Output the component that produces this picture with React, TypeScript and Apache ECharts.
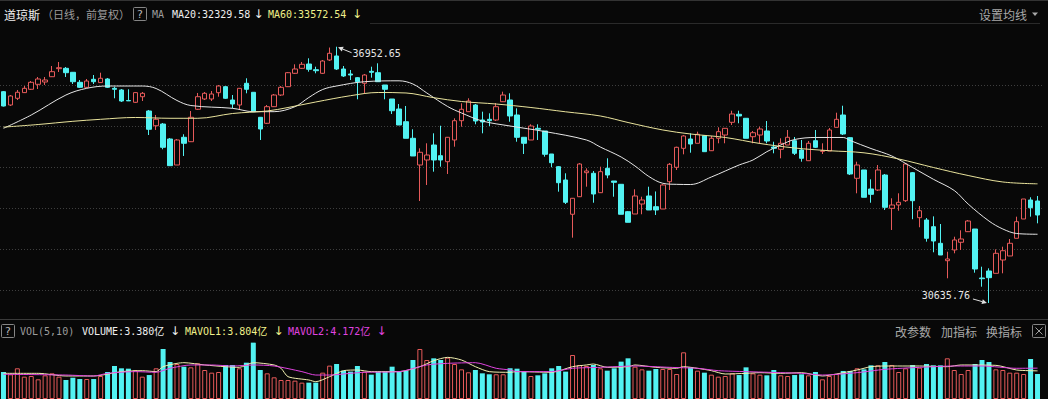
import React, { useEffect, useRef } from "react";
import * as echarts from "echarts";

// ---------- data ----------
const categories: string[] = Array.from({ length: 150 }, (_, i) => `D${i + 1}`);

// [open, close, low, high]
const candles: number[][] = [
  [35844, 35491, 35479, 35861], [35516, 35738, 35491, 35762], [35681, 35829, 35639, 35886], [35821, 35927, 35812, 35984], [35903, 36075, 35886, 36107],
  [36026, 36157, 35910, 36206], [36083, 36132, 36009, 36206], [36213, 36337, 36206, 36477], [36411, 36435, 36329, 36576], [36420, 36312, 36206, 36452],
  [36322, 36090, 36033, 36329], [36075, 35952, 35935, 36132], [35952, 36107, 35935, 36157], [36149, 36090, 36033, 36255], [36068, 36174, 36058, 36312],
  [36157, 35952, 35935, 36181], [35927, 35903, 35681, 35967], [35886, 35614, 35590, 35910], [35627, 35617, 35614, 35903], [35582, 35821, 35565, 35836],
  [35720, 35804, 35614, 35836], [35368, 34917, 34776, 35393], [35005, 35163, 34900, 35269], [35047, 34473, 34424, 35072], [34678, 34020, 34012, 34702],
  [34037, 34653, 34037, 34678], [34720, 34572, 34259, 34794], [34611, 35213, 34604, 35368], [35410, 35720, 35393, 35812], [35664, 35804, 35639, 35836],
  [35664, 35787, 35614, 35861], [35819, 35984, 35720, 36009], [35967, 35681, 35664, 35984], [35639, 35540, 35434, 35762], [35516, 35927, 35393, 35935],
  [36051, 35903, 35804, 36174], [35829, 35351, 35343, 35836], [35213, 34924, 34653, 35220], [35065, 35474, 35047, 35516], [35474, 35762, 35466, 35787],
  [35762, 35952, 35738, 35984], [35967, 36312, 35959, 36329], [36297, 36403, 36280, 36519], [36420, 36519, 36403, 36576], [36526, 36396, 36337, 36667],
  [36386, 36361, 36297, 36460], [36297, 36600, 36280, 36625], [36625, 36790, 36600, 36932], [36724, 36403, 36379, 36952.65], [36403, 36231, 36206, 36477],
  [36280, 36255, 36132, 36379], [36189, 36090, 35656, 36206], [36051, 36255, 35787, 36280], [36346, 36322, 36189, 36460], [36312, 36090, 36083, 36544],
  [36009, 35903, 35656, 36009], [35664, 35375, 35294, 35664], [35417, 35023, 35023, 35540], [35104, 34695, 34695, 35491], [34695, 34259, 34259, 34917],
  [34037, 34350, 33149, 34448], [34160, 34283, 33544, 34572], [34530, 34160, 33872, 34818], [34266, 34160, 33995, 35005], [34118, 34720, 33815, 34727],
  [34653, 35129, 34488, 35188], [35129, 35410, 34981, 35558], [35351, 35614, 35343, 35681], [35516, 35121, 35040, 35540], [35146, 35097, 34818, 35351],
  [35163, 35129, 34998, 35311], [35146, 35474, 35121, 35565], [35597, 35762, 35590, 35844], [35639, 35245, 35104, 35804], [35269, 34720, 34611, 35434],
  [34720, 34572, 34308, 34727], [34653, 34998, 34653, 35040], [34941, 34917, 34653, 35040], [34875, 34301, 34242, 34875], [34308, 34093, 33980, 34308],
  [33995, 33600, 33379, 34012], [33667, 33117, 33075, 33832], [32822, 33216, 32245, 33223], [33255, 34061, 33248, 34086], [33847, 33889, 33502, 33955],
  [33832, 33322, 33107, 33889], [33354, 33872, 33347, 33995], [33955, 33790, 33709, 34202], [33642, 33610, 33255, 33642], [33561, 32822, 32822, 33568],
  [32886, 32624, 32624, 32903], [32829, 33273, 32829, 33438], [33075, 33174, 32822, 33255], [33273, 32928, 32928, 33502], [33009, 32928, 32804, 33385],
  [32952, 33544, 32952, 33568], [33625, 34054, 33420, 34086], [33980, 34473, 33914, 34488], [34448, 34752, 34300, 34776], [34678, 34554, 34340, 34818],
  [34572, 34794, 34572, 34858], [34759, 34365, 34365, 34776], [34389, 34695, 34382, 34752], [34695, 34858, 34572, 34966], [34776, 34941, 34572, 34949],
  [35089, 35294, 35023, 35375], [35287, 35245, 35065, 35375], [35188, 34695, 34695, 35195], [34734, 34833, 34572, 34875], [34776, 34924, 34572, 34981],
  [34875, 34628, 34572, 35121], [34480, 34448, 34325, 34611], [34424, 34572, 34202, 34695], [34530, 34720, 34530, 34900], [34636, 34325, 34283, 34727],
  [34407, 34202, 34118, 34653], [34143, 34572, 34143, 34628], [34636, 34473, 34456, 34900], [34374, 34389, 34308, 34572], [34382, 34900, 34382, 34949],
  [34966, 35163, 34966, 35326], [35269, 34801, 34776, 35498], [34710, 33815, 33790, 34727], [33709, 34037, 33339, 34118], [33914, 33241, 33241, 33914],
  [33445, 33314, 33107, 33684], [33420, 33914, 33396, 34037], [33790, 32994, 32928, 33815], [32969, 33051, 32435, 33216], [33051, 33117, 32910, 33339],
  [33157, 34061, 33125, 34086], [33847, 33157, 32700, 33864], [32738, 32910, 32502, 33026], [32681, 32230, 32147, 32730], [32516, 32163, 31885, 32771],
  [32106, 31818, 31818, 32582], [31678, 31720, 31244, 31899], [31942, 32189, 31860, 32269], [32132, 32213, 31942, 32427], [32393, 32656, 32385, 32681],
  [32459, 31473, 31382, 32459], [31251, 31234, 31037, 31530], [31424, 31259, 30635.76, 31490], [31367, 31860, 31367, 31958], [31695, 31924, 31367, 32023],
  [31794, 32107, 31794, 32213], [32230, 32639, 32230, 32763], [32706, 33199, 32706, 33199], [33174, 32984, 32763, 33241], [33149, 32804, 32599, 33273],
];

// volume, in 亿
const volumes: number[] = [
  3.65, 3.34, 4.15, 3.02, 3.11, 2.66, 3.2, 3.47, 3.02, 2.57,
  2.88, 2.7, 2.7, 2.7, 3.11, 3.65, 4.46, 4.15, 4.1, 3.92,
  3.02, 3.24, 4.15, 6.76, 5.0, 4.73, 4.37, 4.28, 4.82, 3.92,
  3.56, 3.65, 4.6, 4.6, 4.15, 4.91, 7.62, 3.92, 3.47, 2.93,
  2.57, 2.57, 2.48, 2.21, 2.21, 2.21, 3.56, 4.51, 4.73, 3.83,
  3.7, 4.46, 3.7, 3.29, 3.7, 3.7, 4.37, 3.7, 3.83, 5.27,
  6.76, 5.27, 5.5, 5.27, 5.59, 4.73, 4.01, 3.61, 3.92, 3.47,
  3.34, 3.34, 3.34, 4.15, 4.1, 3.7, 3.11, 3.2, 3.47, 4.15,
  4.46, 3.7, 5.95, 4.6, 4.46, 4.6, 4.15, 3.83, 4.15, 5.05,
  5.5, 4.37, 4.01, 3.83, 4.06, 4.06, 4.06, 3.38, 6.31, 4.28,
  3.83, 3.56, 3.29, 3.02, 3.11, 3.47, 3.24, 4.28, 3.47, 3.29,
  3.2, 3.92, 3.2, 3.11, 3.24, 3.34, 3.2, 3.65, 2.66, 3.11,
  3.38, 3.79, 3.79, 4.15, 4.01, 4.55, 4.55, 5.0, 4.6, 3.65,
  4.15, 4.6, 4.24, 4.73, 4.55, 4.55, 5.5, 3.92, 3.38, 3.92,
  4.73, 5.27, 5.0, 4.01, 3.92, 3.56, 3.56, 3.38, 5.41, 3.38,
];

// moving averages: [category index, value]
const ma20Points: number[][] = [
  [0, 34941], [4, 35269], [9, 35762], [12, 35927], [15, 35984], [20, 35984], [22, 35922], [25, 35627], [27, 35503],
  [33, 35434], [36, 35351], [39, 35351], [42, 35474], [44, 35701], [46, 35898], [48, 35984], [52, 36090], [57, 36112],
  [59, 36033], [61, 35812], [64, 35479], [66, 35319], [69, 35121], [73, 34998], [78, 34862], [84, 34653], [86, 34480],
  [89, 34234], [91, 34012], [93, 33753], [95, 33586], [97, 33560], [99, 33556], [102, 33741], [106, 34037], [108, 34160],
  [110, 34365], [112, 34530], [114, 34665], [117, 34715], [121, 34715], [122, 34641], [125, 34443], [128, 34259],
  [131, 33975], [134, 33684], [137, 33408], [139, 33075], [142, 32656], [144, 32459], [146, 32348], [149, 32329.58],
];
const ma60Points: number[][] = [
  [0, 34970], [5, 35035], [10, 35114], [14, 35163], [19, 35208], [24, 35188], [28, 35188], [33, 35306], [38, 35368],
  [41, 35454], [45, 35590], [50, 35745], [54, 35824], [58, 35812], [62, 35696], [66, 35602], [71, 35540], [76, 35454],
  [81, 35348], [86, 35245], [90, 35084], [95, 34900], [99, 34801], [104, 34715], [109, 34567], [114, 34456], [119, 34389],
  [124, 34337], [129, 34185], [134, 33975], [139, 33778], [144, 33618], [149, 33572.54],
];
const mavol1Points: number[][] = [
  [0, 3.47], [5, 3.47], [9, 3.11], [13, 3.11], [17, 3.7], [20, 3.83], [22, 3.7], [23, 4.37], [25, 4.82], [26, 4.91],
  [29, 4.6], [32, 4.37], [34, 4.28], [36, 4.91], [39, 4.6], [40, 4.15], [41, 3.02], [44, 2.57], [45, 2.34], [47, 3.02],
  [49, 3.83], [51, 3.92], [53, 3.7], [57, 3.7], [60, 4.37], [62, 5.18], [64, 5.63], [66, 5.27], [68, 4.37], [70, 3.7],
  [73, 3.61], [74, 3.7], [79, 3.61], [82, 4.37], [84, 4.6], [85, 4.73], [87, 4.28], [90, 4.37], [91, 4.6], [94, 4.28],
  [97, 4.15], [98, 4.37], [100, 4.15], [102, 3.83], [104, 3.38], [107, 3.47], [109, 3.56], [112, 3.47], [115, 3.56],
  [118, 3.11], [120, 3.38], [123, 3.92], [125, 4.37], [127, 4.46], [132, 4.46], [136, 4.37], [138, 4.6], [143, 4.55],
  [146, 3.92], [149, 3.804],
];
const mavol2Points: number[][] = [
  [0, 3.34], [9, 3.24], [13, 3.11], [15, 3.47], [19, 3.7], [22, 3.61], [24, 4.15], [27, 4.6], [30, 4.6], [33, 4.46],
  [36, 4.6], [39, 4.46], [43, 3.7], [45, 3.24], [47, 3.24], [50, 3.47], [52, 3.61], [57, 3.7], [61, 4.6], [64, 4.82],
  [68, 4.91], [71, 4.15], [73, 3.92], [74, 3.7], [79, 3.7], [82, 4.15], [86, 4.28], [91, 4.46], [96, 4.28], [100, 4.15],
  [103, 3.83], [107, 3.7], [112, 3.56], [115, 3.47], [118, 3.24], [123, 3.56], [127, 4.01], [132, 4.28], [137, 4.46],
  [141, 4.46], [146, 4.15], [149, 4.172],
];

const highMark = { index: 48, value: 36952.65 };
const lowMark = { index: 142, value: 30635.76 };

// ---------- style ----------
const BG = "#080808";
const RED = "#e65a5a";
const CYAN = "#52f2f2";
const WHITE = "#efefef";
const GREY = "#9c9c9c";
const YELLOW = "#f0f08a";
const MAGENTA = "#e044e0";
const GRIDC = "#3e3e3e";
const MONO = '10px "DejaVu Sans Mono", "Noto Sans CJK SC", monospace';
const CJK12 = '12px "Noto Sans CJK SC", sans-serif';
const CJK11 = '11px "Noto Sans CJK SC", sans-serif';
const ARROWF = '12px "DejaVu Sans", sans-serif';

function T(text: string, x: number, y: number, fill: string, font: string, align = "left") {
  return {
    type: "text",
    x,
    y,
    silent: true,
    z: 100,
    style: { text, fill, font, textAlign: align, align, textVerticalAlign: "middle", verticalAlign: "middle" },
  };
}
function L(x1: number, y1: number, x2: number, y2: number, stroke: string) {
  return { type: "line", silent: true, z: 100, shape: { x1, y1, x2, y2 }, style: { stroke, lineWidth: 1 } };
}
function R(x: number, y: number, w: number, h: number, stroke: string) {
  return { type: "rect", silent: true, z: 100, shape: { x, y, width: w, height: h, r: 1 }, style: { fill: "none", stroke, lineWidth: 1 } };
}
function arrow(x1: number, y1: number, x2: number, y2: number, color: string) {
  const dx = x2 - x1, dy = y2 - y1;
  const len = Math.hypot(dx, dy);
  const ux = dx / len, uy = dy / len;
  const hl = 5, hw = 2.5;
  const bx = x2 - ux * hl, by = y2 - uy * hl;
  return [
    L(x1, y1, bx, by, color),
    {
      type: "polygon",
      silent: true,
      z: 100,
      shape: { points: [[x2, y2], [bx - uy * hw, by + ux * hw], [bx + uy * hw, by - ux * hw]] },
      style: { fill: color },
    },
  ];
}

export default function App() {
  const ref = useRef<HTMLDivElement>(null);

  useEffect(() => {
    document.body.style.margin = "0";
    document.body.style.background = BG;
    const chart = echarts.init(ref.current!, null, { renderer: "svg" });

    const volData = volumes.map((v, i) => {
      const up = candles[i][1] >= candles[i][0];
      return {
        value: v,
        itemStyle: up
          ? { color: "rgba(0,0,0,0)", borderColor: RED, borderWidth: 1 }
          : { color: CYAN, borderColor: CYAN, borderWidth: 0 },
      };
    });

    const lineS = (data: number[][], color: string, xi: number, yi: number, smooth: number) => ({
      type: "line",
      xAxisIndex: xi,
      yAxisIndex: yi,
      data,
      smooth,
      showSymbol: false,
      symbol: "none",
      silent: true,
      lineStyle: { color, width: 1 },
      z: 5,
    });

    const option: any = {
      animation: false,
      backgroundColor: BG,
      grid: [
        { left: 0, width: 1041, top: 44, height: 287 },
        { left: 0, width: 1041, top: 342, height: 57 },
        { left: 0, width: 1044, top: 85, height: 205 },
      ],
      xAxis: [
        { type: "category", data: categories, gridIndex: 0, boundaryGap: true, show: false },
        {
          type: "category",
          data: categories,
          gridIndex: 1,
          boundaryGap: true,
          position: "top",
          axisLine: { show: true, lineStyle: { color: GRIDC, type: [1, 2] } },
          axisTick: { show: false },
          axisLabel: { show: false },
          splitLine: { show: false },
        },
        { type: "value", gridIndex: 2, min: 0, max: 1, show: false },
      ],
      yAxis: [
        { type: "value", gridIndex: 0, min: 29944.8, max: 37019.4, show: false, splitLine: { show: false } },
        { type: "value", gridIndex: 1, min: 0, max: 7.706, show: false, splitLine: { show: false } },
        {
          type: "value",
          gridIndex: 2,
          min: 0,
          max: 5,
          interval: 1,
          axisLine: { show: false },
          axisTick: { show: false },
          axisLabel: { show: false },
          splitLine: { show: true, lineStyle: { color: GRIDC, type: [1, 2] } },
        },
      ],
      series: [
        {
          type: "candlestick",
          xAxisIndex: 0,
          yAxisIndex: 0,
          data: candles,
          barWidth: 5,
          silent: true,
          itemStyle: { color: BG, color0: CYAN, borderColor: RED, borderColor0: CYAN, borderWidth: 1 },
          z: 3,
        },
        lineS(ma20Points, "#e6e6e6", 0, 0, 0.35),
        lineS(ma60Points, "#e9e39c", 0, 0, 0.35),
        {
          type: "bar",
          xAxisIndex: 1,
          yAxisIndex: 1,
          data: volData,
          barWidth: 5,
          silent: true,
          z: 3,
        },
        lineS(mavol1Points, "#f2f0b0", 1, 1, 0.25),
        lineS(mavol2Points, MAGENTA, 1, 1, 0.25),
        { type: "line", xAxisIndex: 2, yAxisIndex: 2, data: [], silent: true },
      ],
    };

    chart.setOption(option);

    const hp = chart.convertToPixel({ seriesIndex: 0 }, [highMark.index, highMark.value]) as number[];
    const lp = chart.convertToPixel({ seriesIndex: 0 }, [lowMark.index, lowMark.value]) as number[];

    const ma20Last = ma20Points[ma20Points.length - 1][1].toFixed(2);
    const ma60Last = ma60Points[ma60Points.length - 1][1].toFixed(2);
    const volLast = volumes[volumes.length - 1].toFixed(3);
    const mv1Last = mavol1Points[mavol1Points.length - 1][1].toFixed(3);
    const mv2Last = mavol2Points[mavol2Points.length - 1][1].toFixed(3);

    const graphics: any[] = [
      // frame lines
      L(0, 0.5, 1048, 0.5, "#333333"),
      L(370, 23.5, 1040, 23.5, "#2a2a2a"),
      L(0, 319.5, 1048, 319.5, "#3a3a3a"),
      // top header
      T("道琼斯", 4, 14, WHITE, CJK12),
      T("（日线，前复权）", 42, 14, GREY, CJK11),
      R(133.5, 7.5, 13, 13, "#858585"),
      T("?", 140, 14.5, "#b5b5b5", '11px "DejaVu Sans", sans-serif', "center"),
      T("MA", 152, 14, GREY, MONO),
      T(`MA20:${ma20Last}`, 172, 14, WHITE, MONO),
      T("↓", 258.5, 14, WHITE, ARROWF, "center"),
      T(`MA60:${ma60Last}`, 268, 14, YELLOW, MONO),
      T("↓", 357, 14, YELLOW, ARROWF, "center"),
      T("设置均线", 979, 14, "#a8a8a8", CJK12),
      { type: "polygon", silent: true, z: 100, shape: { points: [[1032, 12.5], [1038, 12.5], [1035, 16]] }, style: { fill: "#a8a8a8" } },
      // volume header
      R(1.5, 324.5, 13, 13, "#858585"),
      T("?", 8, 331.5, "#b5b5b5", '11px "DejaVu Sans", sans-serif', "center"),
      T("VOL(5,10)", 20, 331, GREY, MONO),
      T(`VOLUME:${volLast}亿`, 82, 331, WHITE, MONO),
      T("↓", 175, 331, WHITE, ARROWF, "center"),
      T(`MAVOL1:${mv1Last}亿`, 185, 331, YELLOW, MONO),
      T("↓", 278.5, 331, YELLOW, ARROWF, "center"),
      T(`MAVOL2:${mv2Last}亿`, 288, 331, MAGENTA, MONO),
      T("↓", 381.5, 331, MAGENTA, ARROWF, "center"),
      T("改参数", 895, 331, "#a8a8a8", CJK12),
      T("加指标", 941, 331, "#a8a8a8", CJK12),
      T("换指标", 986, 331, "#a8a8a8", CJK12),
      R(1032.5, 324.5, 13, 13, "#858585"),
      L(1035.5, 327.5, 1042.5, 334.5, "#a0a0a0"),
      L(1042.5, 327.5, 1035.5, 334.5, "#a0a0a0"),
      // extreme markers
      ...arrow(hp[0] + 15, hp[1] + 6, hp[0] + 1.5, hp[1] + 0.5, "#e0e0e0"),
      T(highMark.value.toFixed(2), hp[0] + 16, hp[1] + 6.5, "#e6e6e6", MONO),
      ...arrow(lp[0] - 16, lp[1] - 4, lp[0] - 2, lp[1], "#e0e0e0"),
      T(lowMark.value.toFixed(2), lp[0] - 19, lp[1] - 7, "#e6e6e6", MONO, "right"),
    ];

    chart.setOption({ graphic: graphics });

    return () => chart.dispose();
  }, []);

  return (
    <div
      ref={ref}
      style={{ position: "fixed", left: 0, top: 0, width: 1048, height: 399, background: BG }}
    />
  );
}
